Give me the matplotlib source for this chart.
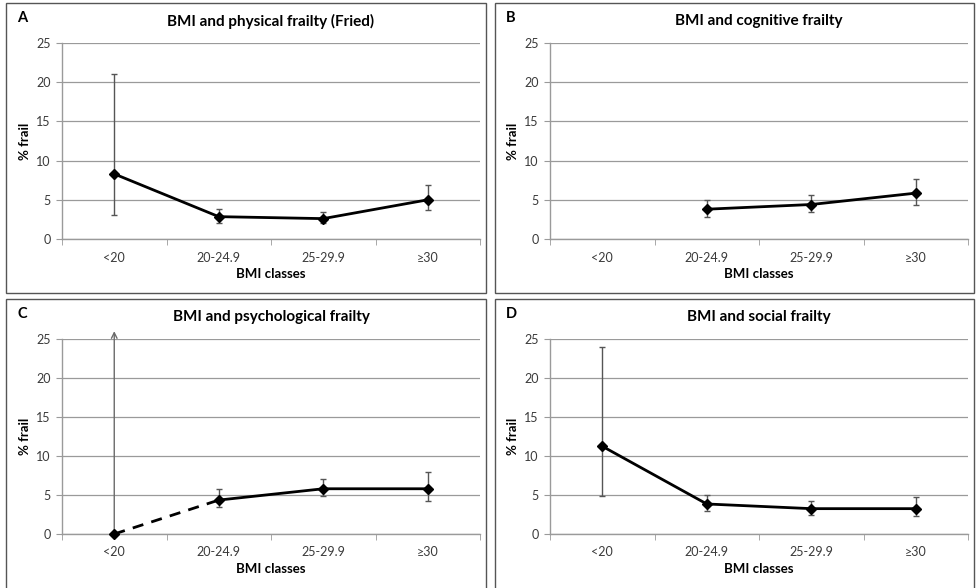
import matplotlib
matplotlib.use('Agg')
import matplotlib.pyplot as plt
from matplotlib.patches import Rectangle
import numpy as np

plt.rcParams['font.family'] = ['Lato', 'DejaVu Sans']

# Categorias de IMC y datos de cada panel (% fragiles, IC inferior, IC superior)
categorias = ['<20', '20-24.9', '25-29.9', '≥30']

fisica = [8.3, 2.85, 2.6, 5.0]
fisica_inf = [3.0, 2.1, 2.0, 3.65]
fisica_sup = [21.0, 3.85, 3.5, 6.95]

cognitiva = [np.nan, 3.8, 4.4, 5.85]
cognitiva_inf = [np.nan, 2.8, 3.5, 4.4]
cognitiva_sup = [np.nan, 5.0, 5.65, 7.7]

psicologica = [0.0, 4.35, 5.8, 5.8]
psicologica_inf = [0.0, 3.45, 4.85, 4.25]
psicologica_sup = [26.0, 5.8, 7.05, 7.9]   # el primer IC sale de escala

social = [11.25, 3.85, 3.25, 3.25]
social_inf = [4.9, 2.95, 2.5, 2.3]
social_sup = [24.0, 5.05, 4.2, 4.75]

W, H = 976, 588
fig = plt.figure(figsize=(W / 100, H / 100), dpi=100)
fig.patch.set_facecolor('white')

GRIS = '#9a9a9a'
TEXTO = '#3a3a3a'


def px_ax(left, top, right, bottom):
    return [left / W, 1 - bottom / H, (right - left) / W, (bottom - top) / H]


def marco(x0, y0, x1, y1):
    fig.patches.append(Rectangle((x0 / W, 1 - y1 / H), (x1 - x0) / W, (y1 - y0) / H,
                                 transform=fig.transFigure, fill=False,
                                 edgecolor='#555555', linewidth=1.0))


def panel(caja, marco_px, letra, titulo, y, y_inf, y_sup, discontinuo=False, flecha=False):
    marco(*marco_px)
    ax = fig.add_axes(px_ax(*caja))
    x = np.arange(len(categorias))
    y = np.array(y, dtype=float)
    inf = np.array(y_inf, dtype=float)
    sup = np.array(y_sup, dtype=float)

    # Barras de error (IC 95%)
    for i in range(len(x)):
        if np.isnan(y[i]):
            continue
        if flecha and i == 0:
            ax.annotate('', xy=(x[i], sup[i]), xytext=(x[i], inf[i]),
                        arrowprops=dict(arrowstyle='->', color='#6a6a6a', lw=1.0,
                                        shrinkA=0, shrinkB=0),
                        annotation_clip=False)
            continue
        ax.errorbar(x[i], y[i], yerr=[[y[i] - inf[i]], [sup[i] - y[i]]], fmt='none',
                    ecolor='#555555', elinewidth=1.0, capsize=2.2, capthick=1.0, zorder=3)

    if discontinuo:
        ax.plot(x[:2], y[:2], color='black', lw=2, ls=(0, (4, 3)), zorder=4)
        ax.plot(x[1:], y[1:], color='black', lw=2, zorder=4)
    else:
        ax.plot(x, y, color='black', lw=2, zorder=4)
    ax.plot(x, y, ls='none', marker='D', ms=4.8, color='black', zorder=5, clip_on=False)

    ax.set_xlim(-0.5, len(categorias) - 0.5)
    ax.set_ylim(0, 25)
    ax.set_yticks([0, 5, 10, 15, 20, 25])
    ax.yaxis.grid(True, color=GRIS, lw=0.9)
    ax.set_axisbelow(True)
    ax.set_xticks(x)
    ax.set_xticklabels(categorias)
    ax.set_xticks(np.arange(-0.5, len(categorias), 1.0), minor=True)
    ax.tick_params(axis='x', which='major', length=0, pad=9, labelsize=9, labelcolor=TEXTO)
    ax.tick_params(axis='x', which='minor', length=4, color=GRIS, direction='out')
    ax.tick_params(axis='y', length=4, color=GRIS, labelsize=9, labelcolor=TEXTO, pad=4)
    for s in ['top', 'right']:
        ax.spines[s].set_visible(False)
    for s in ['left', 'bottom']:
        ax.spines[s].set_color(GRIS)
        ax.spines[s].set_linewidth(1.0)

    ax.set_ylabel('% frail', fontsize=9.5, fontweight='bold', labelpad=4)
    ax.set_xlabel('BMI classes', fontsize=9.5, fontweight='bold', labelpad=3)

    # Titulo y letra del panel
    l, t, r, b = caja
    fig.text((l + r) / 2 / W, 1 - (marco_px[1] + 18) / H, titulo, ha='center', va='center',
             fontsize=11, fontweight='bold')
    fig.text((marco_px[0] + 16) / W, 1 - (marco_px[1] + 15) / H, letra, ha='center', va='center',
             fontsize=10.5, fontweight='bold')
    return ax


panel((62, 43, 480, 239), (6, 3, 486, 293), 'A', 'BMI and physical frailty (Fried)',
      fisica, fisica_inf, fisica_sup)
panel((550, 43, 968, 239), (495, 3, 974, 293), 'B', 'BMI and cognitive frailty',
      cognitiva, cognitiva_inf, cognitiva_sup)
panel((62, 339, 480, 534), (6, 299, 486, 590), 'C', 'BMI and psychological frailty',
      psicologica, psicologica_inf, psicologica_sup, discontinuo=True, flecha=True)
panel((550, 339, 968, 534), (495, 299, 974, 590), 'D', 'BMI and social frailty',
      social, social_inf, social_sup)

fig.savefig('out.png', dpi=100, facecolor='white')
